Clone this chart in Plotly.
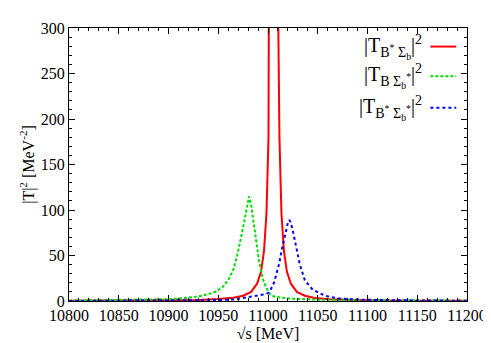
import plotly.graph_objects as go

# |T_{B* Sigma_b}|^2  (red, peak runs off the top of the frame)
red_x = [10800, 10850, 10900, 10930, 10950, 10965, 10975, 10983, 10989, 10993,
         10996, 10998.5, 11000.5, 11002, 11003.5, 11006, 11008.5, 11010, 11011.5,
         11013.5, 11016, 11019, 11023, 11029, 11037, 11047, 11062, 11082, 11112,
         11150, 11200]
red_y = [0.15, 0.3, 0.6, 1.1, 2.2, 3.5, 5.8, 10, 19, 32,
         55, 97, 180, 340, 800, 2400, 800, 340, 180,
         97, 55, 32, 19, 10, 5.8, 3.4, 1.8, 1.0, 0.5,
         0.3, 0.15]

# |T_{B Sigma_b*}|^2  (green)
green_x = [10800, 10850, 10880, 10900, 10915, 10930, 10940, 10948, 10955, 10960,
           10965, 10969, 10973, 10977, 10979.5, 10981, 10983, 10985, 10987, 10989,
           10991, 10993, 10995.5, 10998, 11000, 11002, 11006, 11012, 11022, 11035,
           11050, 11080, 11120, 11200]
green_y = [0.4, 0.8, 1.3, 2.0, 3.0, 5.0, 7.5, 10.5, 16, 23,
           34, 50, 70, 92, 108, 115, 106, 91, 74, 57,
           44, 33, 22, 15, 10.5, 7.5, 5.0, 3.8, 2.7, 2.0,
           1.5, 1.0, 0.6, 0.3]

# |T_{B* Sigma_b*}|^2  (blue)
blue_x = [10800, 10850, 10900, 10930, 10950, 10965, 10980, 10990, 10995, 11000,
          11002, 11004, 11006, 11008, 11011, 11014, 11017.5, 11020, 11021.5, 11023,
          11025.5, 11028.8, 11032, 11037, 11045, 11058, 11071, 11085, 11100, 11150,
          11200]
blue_y = [0.05, 0.1, 0.3, 0.6, 1.0, 1.6, 3.8, 6.0, 7.2, 8.5,
          11, 15, 20, 28, 40, 57, 75, 86, 89, 86,
          74.5, 57, 40, 22.7, 12.4, 5.5, 2.8, 1.8, 1.3, 0.6,
          0.3]

labels = [
    "|T<sub>B<sup>*</sup> Σ<sub>b</sub></sub>|<sup>2</sup>",
    "|T<sub>B Σ<sub>b</sub><sup>*</sup></sub>|<sup>2</sup>",
    "|T<sub>B<sup>*</sup> Σ<sub>b</sub><sup>*</sup></sub>|<sup>2</sup>",
]
colors = ["#ff0000", "#00dd00", "#0000ff"]
dashes = ["solid", "3px,2px", "dot"]

serif = "Liberation Serif, Times New Roman, serif"

fig = go.Figure()
for xs, ys, c, d, name in zip([red_x, green_x, blue_x], [red_y, green_y, blue_y],
                              colors, dashes, labels):
    fig.add_trace(go.Scatter(x=xs, y=ys, mode="lines", name=name,
                             line=dict(color=c, width=2, dash=d),
                             showlegend=False))

# legend drawn by hand: text on the left, line sample on the right
leg_y = [0.932, 0.823, 0.708]
for name, c, d, yy in zip(labels, colors, dashes, leg_y):
    fig.add_annotation(x=0.893, y=yy, xref="paper", yref="paper",
                       text=name, showarrow=False, xanchor="right", yanchor="middle",
                       font=dict(family=serif, size=20, color="black"))
    fig.add_shape(type="line", xref="paper", yref="paper",
                  x0=0.908, x1=0.973, y0=yy, y1=yy,
                  line=dict(color=c, width=2, dash=d))

axis_common = dict(
    showline=True, linecolor="black", linewidth=1, mirror="allticks",
    ticks="inside", ticklen=6, tickcolor="black", showgrid=False, zeroline=False,
    tickformat="d", ticklabeloverflow="allow",
    tickfont=dict(family=serif, size=16, color="black"),
    minor=dict(ticks="inside", ticklen=3, tickcolor="black", showgrid=False),
)

fig.update_xaxes(range=[10800, 11200], dtick=50, tick0=10800,
                 minor_dtick=10,
                 title=dict(text="√s [MeV]", font=dict(family=serif, size=16, color="black"),
                            standoff=4),
                 **axis_common)
fig.update_yaxes(range=[0, 300], dtick=50, minor_dtick=10,
                 title=dict(text="|T|<sup>2</sup> [MeV<sup>-2</sup>]",
                            font=dict(family=serif, size=16, color="black"), standoff=2),
                 **axis_common)

fig.update_layout(
    width=491, height=343,
    margin=dict(l=61, r=18, t=12, b=41),
    plot_bgcolor="white", paper_bgcolor="white",
    font=dict(family=serif, color="black"),
)

fig.write_html("out.html")
